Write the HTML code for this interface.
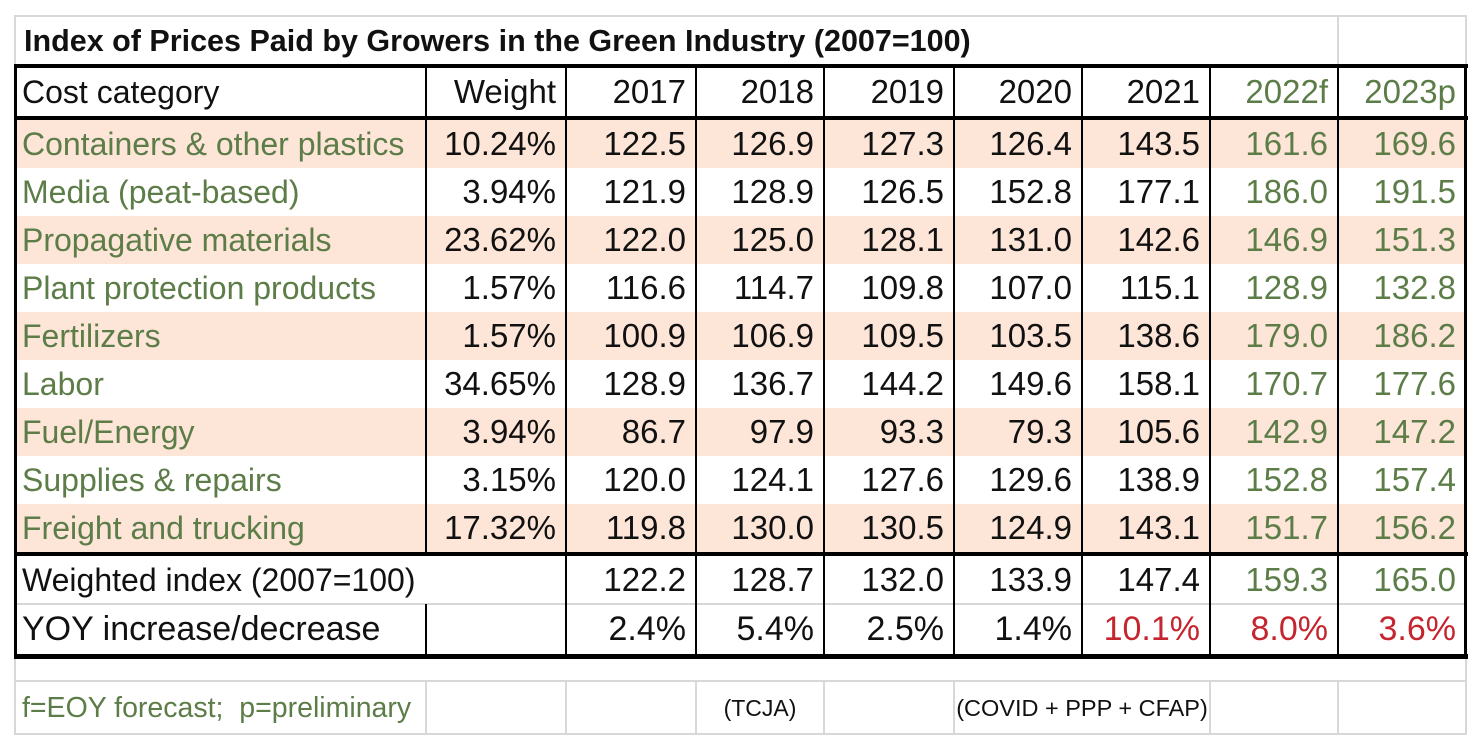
<!DOCTYPE html>
<html><head><meta charset="utf-8">
<style>
body{margin:0;background:#fff;width:1480px;height:740px;overflow:hidden;position:relative;font-family:"Liberation Sans",Arial,sans-serif;}
.c{position:absolute;box-sizing:border-box;white-space:nowrap;font-size:33px;line-height:48px;color:#111;}
.r{text-align:right;padding-right:10px;}
.l{text-align:left;padding-left:8px;}
.g{color:#5d7d48;}
.red{color:#c4252e;}
.ln{position:absolute;}
</style></head><body>
<div id="root"></div>
<script>
const years=["2017","2018","2019","2020","2021","2022f","2023p"];
const categories=["Containers & other plastics","Media (peat-based)","Propagative materials","Plant protection products","Fertilizers","Labor","Fuel/Energy","Supplies & repairs","Freight and trucking"];
const weights=["10.24%","3.94%","23.62%","1.57%","1.57%","34.65%","3.94%","3.15%","17.32%"];
const values=[
["122.5","126.9","127.3","126.4","143.5","161.6","169.6"],
["121.9","128.9","126.5","152.8","177.1","186.0","191.5"],
["122.0","125.0","128.1","131.0","142.6","146.9","151.3"],
["116.6","114.7","109.8","107.0","115.1","128.9","132.8"],
["100.9","106.9","109.5","103.5","138.6","179.0","186.2"],
["128.9","136.7","144.2","149.6","158.1","170.7","177.6"],
["86.7","97.9","93.3","79.3","105.6","142.9","147.2"],
["120.0","124.1","127.6","129.6","138.9","152.8","157.4"],
["119.8","130.0","130.5","124.9","143.1","151.7","156.2"]];
const weighted=["122.2","128.7","132.0","133.9","147.4","159.3","165.0"];
const yoy=["2.4%","5.4%","2.5%","1.4%","10.1%","8.0%","3.6%"];

const root=document.getElementById('root');
const X=[14,426,566,696,824,954,1082,1210,1338,1466];
function box(x,y,w,h,cls,txt,bg){
  const d=document.createElement('div');
  d.className=cls;
  d.style.left=x+'px';d.style.top=y+'px';d.style.width=w+'px';d.style.height=h+'px';
  d.style.lineHeight=h+'px';
  if(bg)d.style.background=bg;
  if(txt!==undefined)d.textContent=txt;
  root.appendChild(d);return d;
}
for(let i=0;i<categories.length;i++){
  if(i%2===0){const b=box(16,120+i*48,1450,48,'ln','', '#fde5d8');
    
    }
}
function line(x,y,w,h,col,name){const d=box(x,y,w,h,'ln','',col);
  
  }
const LG='#d8d8d8';
line(14,15,1453,2,LG,'outer-top');line(14,15,2,720,LG,'outer-left');line(1465,15,2,720,LG,'outer-right');
line(14,733,1453,2,LG,'outer-bottom');line(1337,15,2,52,LG,'title-divider');
line(14,680,1453,2,LG,'footer-top');line(16,603,1450,2,LG,'yoy-divider');
[426,566,696,824,954,1210,1338].forEach(x=>line(x-1,682,2,52,LG,'footer-divider'));
const K='#000';
line(14,64,1454,4,K,'header-top');line(14,116,1454,4,K,'header-bottom');
line(14,552,1454,4,K,'body-bottom');line(14,654,1454,5,K,'table-bottom');
line(14,64,3,595,K,'table-left');line(1464,64,3,595,K,'table-right');
for(let j=1;j<9;j++){ if(j===1){line(X[j]-1,68,2,488,K,'col-divider');line(X[j]-1,604,2,52,K,'col-divider');} else line(X[j]-1,68,2,588,K,'col-divider'); }

let t=box(16,16,1320,50,'c l','Index of Prices Paid by Growers in the Green Industry (2007=100)');
t.style.fontWeight='bold';t.style.fontSize='30.5px';


t=box(X[0],68,X[1]-X[0],48,'c l','Cost category');
t.style.fontSize='32px';


t=box(X[1],68,X[2]-X[1],48,'c r','Weight');


years.forEach((y,k)=>{const d=box(X[k+2],68,X[k+3]-X[k+2],48,'c r'+(k>=5?' g':''),y);
  
  });
categories.forEach((c,i)=>{
  const y=120+i*48;
  let d=box(X[0],y,X[1]-X[0],48,'c l g',c);
  d.style.fontSize='32px';
  
  
  d=box(X[1],y,X[2]-X[1],48,'c r',weights[i]);
  
  
  values[i].forEach((v,k)=>{const e=box(X[k+2],y,X[k+3]-X[k+2],48,'c r'+(k>=5?' g':''),v);
    
    });
});
t=box(X[0],556,420,48,'c l','Weighted index (2007=100)');
t.style.fontSize='32px';


weighted.forEach((v,k)=>{const e=box(X[k+2],556,X[k+3]-X[k+2],48,'c r'+(k>=5?' g':''),v);
  
  });
t=box(X[0],605,X[1]-X[0],49,'c l','YOY increase/decrease');
t.style.fontSize='34px';


yoy.forEach((v,k)=>{const e=box(X[k+2],605,X[k+3]-X[k+2],49,'c r'+(k>=4?' red':''),v);
  e.style.fontSize='34px';
  
  });
t=box(14,683,412,50,'c l g','f=EOY forecast;  p=preliminary');
t.style.fontSize='28.5px';t.style.whiteSpace='pre';


t=box(696,683,128,50,'c','(TCJA)');t.style.fontSize='23px';t.style.textAlign='center';


t=box(954,683,256,50,'c','(COVID + PPP + CFAP)');t.style.fontSize='23.5px';t.style.textAlign='center';


</script>
</body></html>
